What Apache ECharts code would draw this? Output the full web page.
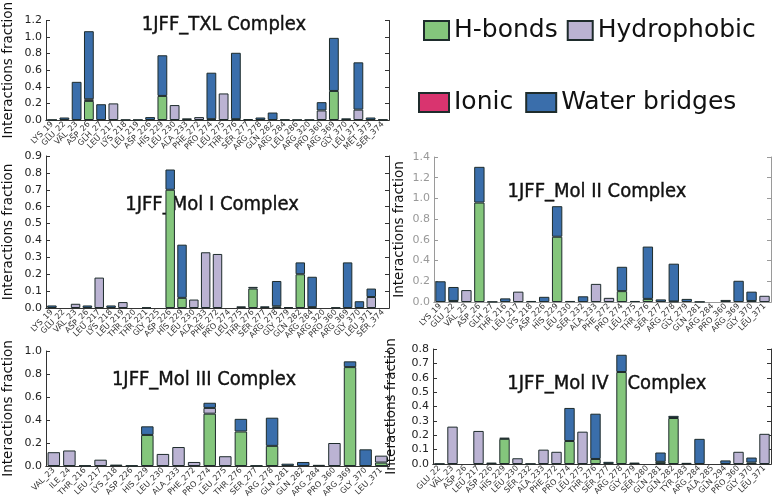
<!DOCTYPE html>
<html>
<head>
<meta charset="utf-8">
<script src="https://cdn.jsdelivr.net/npm/echarts@6/dist/echarts.min.js"></script>
<style>
  html, body { margin: 0; padding: 0; background: #fff; }
  #main { width: 776px; height: 504px; }
</style>
</head>
<body>
<div id="main"></div>
<script>
// 1JFF_TXL
var txlCats = ["LYS_19", "GLU_22", "VAL_23", "ASP_26", "GLH_27", "LEU_217", "LYS_218", "LEU_219", "ASP_226", "HIS_229", "LEU_230", "ALA_233", "PHE_272", "PRO_274", "LEU_275", "THR_276", "SER_277", "ARG_278", "GLN_282", "ARG_284", "LEU_286", "ARG_320", "PRO_360", "ARG_369", "GLY_370", "LEU_371", "MET_373", "SER_374"];
var txlHb = [0, 0, 0, 0.23, 0, 0, 0, 0, 0, 0.29, 0, 0, 0, 0.01, 0, 0.01, 0, 0, 0, 0, 0, 0, 0, 0.35, 0, 0, 0, 0];
var txlHy = [0.003, 0, 0, 0, 0, 0.2, 0.003, 0.003, 0, 0, 0.18, 0.02, 0.035, 0, 0.32, 0, 0.01, 0, 0, 0.005, 0.003, 0.003, 0.115, 0, 0, 0.125, 0, 0.005];
var txlIo = [0, 0, 0, 0.02, 0, 0, 0, 0, 0, 0, 0, 0, 0, 0, 0, 0, 0, 0, 0, 0, 0, 0, 0, 0, 0, 0, 0, 0];
var txlWb = [0, 0.03, 0.46, 0.82, 0.19, 0, 0, 0, 0.035, 0.49, 0, 0, 0, 0.56, 0, 0.8, 0, 0.03, 0.09, 0, 0, 0, 0.1, 0.64, 0.02, 0.57, 0.03, 0];

// 1JFF_Mol I
var m1Cats = ["LYS_19", "GLU_22", "VAL_23", "ASP_26", "LEU_217", "LYS_218", "LEU_219", "THR_220", "THR_221", "GLY_225", "ASP_226", "HIS_229", "LEU_230", "ALA_233", "PHE_272", "PRO_274", "LEU_275", "THR_276", "SER_277", "ARG_278", "GLY_279", "GLN_282", "ARG_284", "ARG_320", "PRO_360", "ARG_369", "GLY_370", "LEU_371", "SER_374"];
var m1Hb = [0, 0, 0, 0, 0, 0, 0, 0, 0, 0, 0.7, 0.06, 0, 0, 0, 0, 0, 0.115, 0, 0.01, 0, 0.2, 0.005, 0, 0, 0, 0, 0, 0];
var m1Hy = [0, 0, 0.025, 0, 0.18, 0, 0.035, 0, 0.003, 0, 0, 0, 0.05, 0.33, 0.32, 0, 0.01, 0, 0, 0, 0.005, 0, 0, 0, 0.003, 0, 0, 0.065, 0];
var m1Io = [0, 0, 0, 0, 0, 0, 0, 0, 0, 0, 0, 0, 0, 0, 0, 0, 0, 0, 0, 0, 0, 0, 0, 0, 0, 0, 0, 0, 0];
var m1Wb = [0.015, 0, 0, 0.015, 0, 0.015, 0, 0, 0, 0, 0.12, 0.315, 0, 0, 0, 0, 0, 0.01, 0.01, 0.15, 0, 0.07, 0.18, 0, 0, 0.27, 0.04, 0.05, 0];

// 1JFF_Mol II
var m2Cats = ["LYS_19", "GLU_22", "VAL_23", "ASP_26", "GLH_27", "THR_216", "LEU_217", "LYS_218", "ASP_226", "HIS_229", "LEU_230", "SER_232", "ALA_233", "PHE_272", "PRO_274", "LEU_275", "THR_276", "SER_277", "ARG_278", "GLY_279", "GLN_281", "ARG_284", "PRO_360", "ARG_369", "GLY_370", "LEU_371"];
var m2Hb = [0, 0.01, 0, 0.96, 0, 0, 0, 0, 0, 0.63, 0, 0, 0, 0, 0.105, 0, 0.03, 0, 0.005, 0, 0, 0, 0, 0, 0.01, 0];
var m2Hy = [0, 0, 0.115, 0, 0.003, 0, 0.1, 0.01, 0, 0, 0.01, 0, 0.175, 0.04, 0, 0.01, 0, 0, 0, 0, 0.003, 0, 0.02, 0, 0, 0.06];
var m2Io = [0, 0, 0, 0, 0, 0, 0, 0, 0, 0, 0, 0, 0, 0, 0, 0, 0, 0, 0, 0, 0, 0, 0, 0, 0, 0];
var m2Wb = [0.2, 0.135, 0, 0.345, 0, 0.035, 0, 0, 0.05, 0.295, 0, 0.055, 0, 0, 0.235, 0, 0.505, 0.025, 0.365, 0.03, 0, 0, 0, 0.205, 0.09, 0];

// 1JFF_Mol III
var m3Cats = ["VAL_23", "ILE_24", "THR_216", "LEU_217", "LYS_218", "ASP_226", "HIS_229", "LEU_230", "ALA_233", "PHE_272", "PRO_274", "LEU_275", "THR_276", "SER_277", "ARG_278", "GLN_281", "GLN_282", "ARG_284", "PRO_360", "ARG_369", "GLY_370", "LEU_371"];
var m3Hb = [0, 0, 0, 0, 0, 0, 0.27, 0, 0, 0, 0.455, 0, 0.3, 0, 0.175, 0, 0, 0, 0, 0.86, 0, 0.03];
var m3Hy = [0.12, 0.135, 0.005, 0.055, 0, 0.005, 0, 0.105, 0.165, 0.035, 0.05, 0.085, 0, 0.005, 0, 0, 0, 0, 0.2, 0, 0, 0.06];
var m3Io = [0, 0, 0, 0, 0, 0, 0, 0, 0, 0, 0, 0, 0, 0, 0, 0, 0, 0, 0, 0, 0, 0];
var m3Wb = [0, 0, 0, 0, 0.012, 0, 0.075, 0, 0, 0, 0.045, 0, 0.11, 0, 0.245, 0.02, 0.035, 0.01, 0, 0.05, 0.145, 0];

// 1JFF_Mol IV
var m4Cats = ["GLU_22", "VAL_23", "ASP_26", "LEU_217", "ASP_226", "HIS_229", "LEU_230", "SER_232", "ALA_233", "PHE_272", "PRO_274", "LEU_275", "THR_276", "SER_277", "ARG_278", "GLY_279", "SER_280", "GLN_281", "GLN_282", "TYR_283", "ARG_284", "ALA_285", "GLN_294", "PRO_360", "GLY_370", "LEU_371"];
var m4Hb = [0, 0, 0, 0, 0, 0.175, 0, 0, 0, 0, 0.16, 0, 0.035, 0, 0.64, 0, 0, 0.015, 0.32, 0, 0, 0, 0, 0, 0.01, 0];
var m4Hy = [0.002, 0.26, 0, 0.23, 0, 0, 0.04, 0.002, 0.1, 0.085, 0, 0.225, 0, 0, 0, 0, 0, 0, 0, 0.008, 0, 0, 0, 0.085, 0, 0.21];
var m4Io = [0, 0, 0, 0, 0, 0, 0, 0, 0, 0, 0, 0, 0, 0, 0, 0, 0, 0, 0, 0, 0, 0, 0, 0, 0, 0];
var m4Wb = [0, 0, 0, 0, 0.01, 0.008, 0, 0, 0, 0, 0.23, 0, 0.315, 0.015, 0.12, 0.01, 0, 0.065, 0.015, 0, 0.175, 0, 0.025, 0, 0.035, 0];

var seriesNames = ["H-bonds", "Hydrophobic", "Ionic", "Water bridges"];
var seriesColors = ["#84c67c", "#bbb3d3", "#d9346f", "#3a6eab"];

var fam = "DejaVu Sans";
var titleFam = "'DejaVu Sans Condensed', 'DejaVu Sans'";

var panels = [
  { cats: txlCats, vals: [txlHb, txlHy, txlIo, txlWb], max: 1.2, step: 0.2, grid: { left: 39, top: 5, width: 350, height: 115 }, nameGap: 31, muted: false },
  { cats: m1Cats, vals: [m1Hb, m1Hy, m1Io, m1Wb], max: 0.9, step: 0.1, grid: { left: 39, top: 156, width: 350, height: 152 }, nameGap: 31, muted: false },
  { cats: m2Cats, vals: [m2Hb, m2Hy, m2Io, m2Wb], max: 1.4, step: 0.2, grid: { left: 434, top: 157, width: 337, height: 145 }, nameGap: 28, muted: true },
  { cats: m3Cats, vals: [m3Hb, m3Hy, m3Io, m3Wb], max: 1.0, step: 0.2, grid: { left: 39, top: 351, width: 350, height: 115 }, nameGap: 31, muted: false },
  { cats: m4Cats, vals: [m4Hb, m4Hy, m4Io, m4Wb], max: 0.8, step: 0.1, grid: { left: 433, top: 349, width: 338, height: 115 }, nameGap: 35, muted: false }
];

var grids = [], xAxes = [], yAxes = [], series = [];

panels.forEach(function (p, i) {
  var lineColor = p.muted ? "#9a9a9a" : "#333";
  var labelColor = p.muted ? "#999" : "#222";
  grids.push(p.grid);
  xAxes.push({
    gridIndex: i, type: "category", data: p.cats,
    axisLine: { lineStyle: { color: lineColor, width: 1 } },
    axisTick: { inside: true, alignWithLabel: true, length: 3, lineStyle: { color: lineColor } },
    axisLabel: { interval: 0, rotate: 45, fontSize: 8, fontFamily: fam, color: "#333", margin: 3 }
  });
  xAxes.push({
    gridIndex: i, type: "category", data: p.cats, position: "top",
    axisLine: { lineStyle: { color: lineColor, width: 1 } },
    axisTick: { inside: true, alignWithLabel: true, length: 3, lineStyle: { color: lineColor } },
    axisLabel: { show: false }
  });
  yAxes.push({
    gridIndex: i, type: "value", min: 0, max: p.max, interval: p.step,
    name: "Interactions fraction", nameLocation: "middle", nameGap: p.nameGap,
    nameTextStyle: { fontSize: 13.5, fontFamily: fam, color: "#111" },
    axisLine: { show: true, lineStyle: { color: lineColor, width: 1 } },
    axisTick: { show: true, inside: true, length: 4, lineStyle: { color: lineColor } },
    axisLabel: { fontSize: 11, fontFamily: fam, color: labelColor, margin: 4, formatter: function (v) { return v.toFixed(1); } },
    splitLine: { show: false }
  });
  yAxes.push({
    gridIndex: i, type: "value", min: 0, max: p.max, interval: p.step, position: "right",
    axisLine: { show: true, lineStyle: { color: lineColor, width: 1 } },
    axisTick: { show: true, inside: true, length: 4, lineStyle: { color: lineColor } },
    axisLabel: { show: false },
    splitLine: { show: false }
  });
  for (var s = 0; s < 4; s++) {
    series.push({
      name: seriesNames[s],
      type: "bar",
      stack: "p" + i,
      xAxisIndex: 2 * i,
      yAxisIndex: 2 * i,
      barCategoryGap: "20%",
      itemStyle: { color: seriesColors[s], borderColor: "#1e2c2c", borderWidth: 1 },
      emphasis: { disabled: true },
      data: p.vals[s].map(function (v) { return v === 0 ? "-" : v; })
    });
  }
});

var titleStyle = { fontSize: 20, fontFamily: titleFam, fill: "#111", stroke: "#111", lineWidth: 0.4, textAlign: "center", textVerticalAlign: "middle" };
function titleText(str, x, y) {
  return { type: "text", x: x, y: y, style: Object.assign({ text: str }, titleStyle) };
}

var chart = echarts.init(document.getElementById("main"));
chart.setOption({
  animation: false,
  grid: grids,
  xAxis: xAxes,
  yAxis: yAxes,
  series: series,
  legend: [
    {
      data: ["H-bonds", "Hydrophobic"], left: 418, top: 13, itemWidth: 25, itemHeight: 19, itemGap: 9,
      icon: "rect", selectedMode: false,
      textStyle: { fontSize: 25, fontFamily: fam, color: "#111" }
    },
    {
      data: ["Ionic", "Water bridges"], left: 413, top: 85, itemWidth: 30, itemHeight: 19, itemGap: 12,
      icon: "rect", selectedMode: false,
      textStyle: { fontSize: 25, fontFamily: fam, color: "#111" }
    }
  ],
  graphic: [
    titleText("1JFF_TXL Complex", 224, 25),
    titleText("1JFF_Mol I Complex", 212, 205),
    titleText("1JFF_Mol II Complex", 597, 192),
    titleText("1JFF_Mol III Complex", 204, 380),
    titleText("1JFF_Mol IV", 558, 384),
    titleText("Complex", 667, 384)
  ]
});
</script>
</body>
</html>
